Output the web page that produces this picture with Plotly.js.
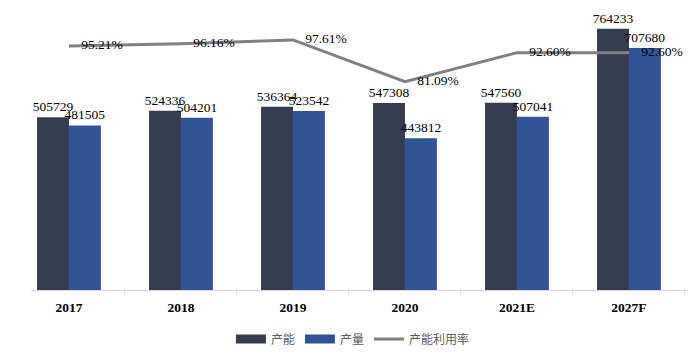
<!DOCTYPE html>
<html><head><meta charset="utf-8">
<script src="https://cdn.plot.ly/plotly-3.0.1.min.js"></script>
<style>html,body{margin:0;padding:0;background:#fff}#chart{width:688px;height:361px}</style>
</head><body><div id="chart"></div>
<script>
const categories = ["2017","2018","2019","2020","2021E","2027F"];
const capacity = [505729, 524336, 536364, 547308, 547560, 764233];
const output = [481505, 504201, 523542, 443812, 507041, 707680];
const utilization = [95.21, 96.16, 97.61, 81.09, 92.60, 92.60];
const utilLabels = ["95.21%","96.16%","97.61%","81.09%","92.60%","92.60%"];
const seriesNames = ["产能","产量","产能利用率"];
const seriesColors = ["#333d4f","#2f5597","#808080"];

const serif = "Liberation Serif, Times New Roman, serif";
const traces = [
  {type:"bar", name:seriesNames[0], x:categories, y:capacity, text:capacity.map(String),
   textposition:"outside", constraintext:"none", cliponaxis:false, showlegend:false,
   textfont:{family:serif, size:13.5, color:"#000"},
   marker:{color:seriesColors[0]}, hoverinfo:"none"},
  {type:"bar", name:seriesNames[1], x:categories, y:output, text:output.map(String),
   textposition:"outside", constraintext:"none", cliponaxis:false, showlegend:false,
   textfont:{family:serif, size:13.5, color:"#000"},
   marker:{color:seriesColors[1]}, hoverinfo:"none"},
  {type:"scatter", mode:"lines+markers+text", name:seriesNames[2], x:categories, y:utilization,
   yaxis:"y2", text:utilLabels, textposition:"middle right", cliponaxis:false, showlegend:false,
   textfont:{family:serif, size:13.5, color:"#000"},
   marker:{size:18, opacity:0, color:seriesColors[2]},
   line:{color:seriesColors[2], width:3}, hoverinfo:"none"},
  // legend entries (swatches only)
  {type:"scatter", mode:"lines", name:seriesNames[0], x:[null], y:[null], line:{color:seriesColors[0], width:9}, hoverinfo:"none"},
  {type:"scatter", mode:"lines", name:seriesNames[1], x:[null], y:[null], line:{color:seriesColors[1], width:9}, hoverinfo:"none"},
  {type:"scatter", mode:"lines", name:seriesNames[2], x:[null], y:[null], line:{color:seriesColors[2], width:3}, hoverinfo:"none"}
];
const layout = {
  width:688, height:361,
  margin:{l:31, r:0, t:0, b:71},
  paper_bgcolor:"#fff", plot_bgcolor:"#fff",
  barmode:"group", bargap:0.43, bargroupgap:0,
  showlegend:true,
  legend:{orientation:"h", x:0.49, xanchor:"center", y:-0.169, yanchor:"middle",
    font:{family:"Noto Sans CJK SC", size:12, color:"#595959"}, itemwidth:30, traceorder:"normal"},
  xaxis:{type:"category", range:[-0.339, 5.527], showgrid:false, zeroline:false,
    showline:true, linecolor:"#d9d9d9", linewidth:1,
    ticks:"outside", tickson:"boundaries", ticklen:4, tickcolor:"#d9d9d9", ticklabelstandoff:5,
    tickfont:{family:serif, size:13.5, color:"#000", weight:"bold"}},
  yaxis:{range:[0, 848450], visible:false, showgrid:false, zeroline:false},
  yaxis2:{range:[-1.2, 113.4], overlaying:"y", side:"right", visible:false, showgrid:false, zeroline:false}
};
Plotly.newPlot("chart", traces, layout, {displayModeBar:false, staticPlot:true});
</script></body></html>
